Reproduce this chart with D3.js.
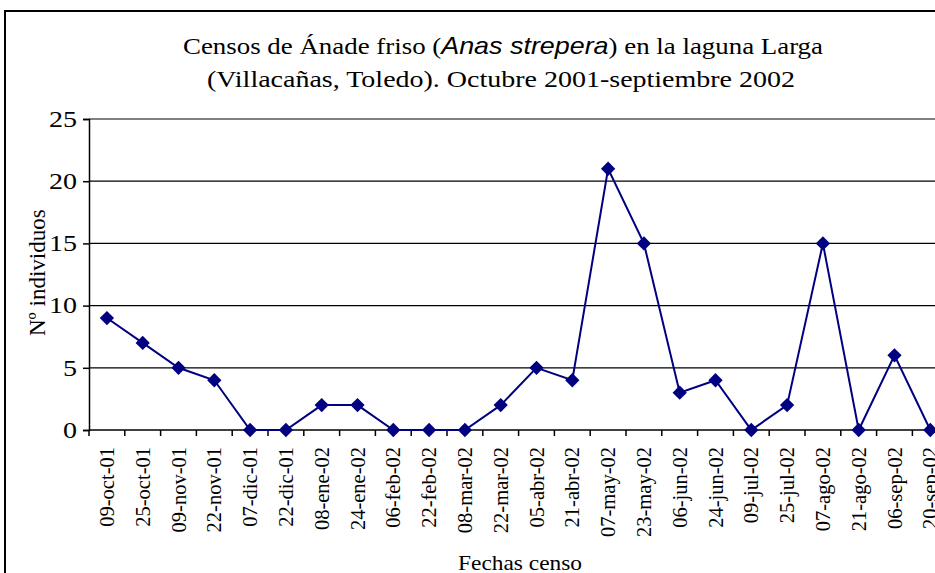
<!DOCTYPE html>
<html>
<head>
<meta charset="utf-8">
<script src="https://cdn.jsdelivr.net/npm/d3@7"></script>
<style>
  body { margin: 0; background: #fff; }
  svg { display: block; }
  text { font-family: "Liberation Serif", "Times New Roman", serif; fill: #000; }
</style>
</head>
<body>
<svg id="chart" width="935" height="573"></svg>
<script>
// fechas de censo
var fechas = ["09-oct-01", "25-oct-01", "09-nov-01", "22-nov-01", "07-dic-01", "22-dic-01",
  "08-ene-02", "24-ene-02", "06-feb-02", "22-feb-02", "08-mar-02", "22-mar-02",
  "05-abr-02", "21-abr-02", "07-may-02", "23-may-02", "06-jun-02", "24-jun-02",
  "09-jul-02", "25-jul-02", "07-ago-02", "21-ago-02", "06-sep-02", "20-sep-02"];
var individuos = [9, 7, 5, 4, 0, 0, 2, 2, 0, 0, 0, 2, 5, 4, 21, 15, 3, 4, 0, 2, 15, 0, 6, 0];
var yTicks = [0, 5, 10, 15, 20, 25];

var svg = d3.select("#chart");

// plot area (continues past the right edge, as in the original)
var pLeft = 89, pTop = 119, pBottom = 430, step = 35.8;
var pRight = pLeft + step * fechas.length;

var x = d3.scaleBand().domain(fechas).range([pLeft, pRight]);
var y = d3.scaleLinear().domain([0, 25]).range([pBottom, pTop]);

// chart frame
svg.append("rect")
  .attr("x", 5).attr("y", 11)
  .attr("width", 1000).attr("height", 700)
  .attr("fill", "none").attr("stroke", "#000").attr("stroke-width", 2);

// title
var title = svg.append("text")
  .attr("x", 503).attr("y", 54)
  .attr("text-anchor", "middle")
  .attr("textLength", 640).attr("lengthAdjust", "spacingAndGlyphs")
  .style("font-size", "24px");
title.append("tspan").text("Censos de Ánade friso (");
title.append("tspan").text("Anas strepera")
  .style("font-family", "'Liberation Sans', Arial, sans-serif")
  .style("font-style", "italic");
title.append("tspan").text(") en la laguna Larga");
svg.append("text")
  .attr("x", 501).attr("y", 87)
  .attr("text-anchor", "middle")
  .attr("textLength", 588).attr("lengthAdjust", "spacingAndGlyphs")
  .style("font-size", "24px")
  .text("(Villacañas, Toledo). Octubre 2001-septiembre 2002");

// gridlines
svg.append("g")
  .selectAll("line")
  .data(yTicks.filter(function (d) { return d > 0; }))
  .enter().append("line")
  .attr("x1", pLeft).attr("x2", pRight)
  .attr("y1", function (d) { return y(d); })
  .attr("y2", function (d) { return y(d); })
  .attr("stroke", function (d) { return d == 25 ? "#808080" : "#000"; })
  .attr("stroke-width", function (d) { return d == 25 ? 2 : 1.3; });

// y axis
var yAxis = svg.append("g")
  .attr("transform", "translate(" + pLeft + ",0)")
  .call(d3.axisLeft(y).tickValues(yTicks).tickSize(6).tickPadding(6));
yAxis.select(".domain").attr("stroke", "#000").attr("stroke-width", 1.5);
yAxis.selectAll(".tick line").attr("stroke", "#000").attr("stroke-width", 1.5);
yAxis.selectAll("text")
  .style("font-size", "23px")
  .style("font-family", "'Liberation Serif', serif")
  .attr("fill", "#000")
  .attr("textLength", function (d) { return d < 10 ? 14 : 28; })
  .attr("lengthAdjust", "spacingAndGlyphs");

// x axis with ticks between categories
var xAxis = svg.append("g")
  .attr("transform", "translate(0," + pBottom + ")");
xAxis.append("line")
  .attr("x1", pLeft).attr("x2", pRight)
  .attr("stroke", "#000").attr("stroke-width", 1.5);
xAxis.selectAll(".tk")
  .data(fechas)
  .enter().append("line")
  .attr("class", "tk")
  .attr("x1", function (d) { return x(d); })
  .attr("x2", function (d) { return x(d); })
  .attr("y1", 0).attr("y2", 6)
  .attr("stroke", "#000").attr("stroke-width", 1.5);
xAxis.selectAll(".lbl")
  .data(fechas)
  .enter().append("text")
  .attr("class", "lbl")
  .attr("transform", function (d) {
    return "translate(" + (x(d) + x.bandwidth() / 2 + 7) + ",17) rotate(-90)";
  })
  .attr("text-anchor", "end")
  .style("font-size", "20.5px")
  .text(function (d) { return d; });

// axis titles (y title is cut at the top, as in the original)
svg.append("defs").append("clipPath").attr("id", "ylclip")
  .append("rect").attr("x", 0).attr("y", 209).attr("width", 80).attr("height", 200);
svg.append("g")
  .attr("clip-path", "url(#ylclip)")
  .append("text")
  .attr("transform", "translate(45,336) rotate(-90)")
  .attr("text-anchor", "start")
  .style("font-size", "23px")
  .text("Nº individuos");
svg.append("text")
  .attr("x", 520).attr("y", 570)
  .attr("text-anchor", "middle")
  .attr("textLength", 124).attr("lengthAdjust", "spacingAndGlyphs")
  .style("font-size", "22px")
  .text("Fechas censo");

// series
var line = d3.line()
  .x(function (d, i) { return x(fechas[i]) + x.bandwidth() / 2; })
  .y(function (d) { return y(d); });
svg.append("path")
  .datum(individuos)
  .attr("d", line)
  .attr("fill", "none")
  .attr("stroke", "#000080")
  .attr("stroke-width", 2);
svg.append("g")
  .selectAll("path")
  .data(individuos)
  .enter().append("path")
  .attr("d", d3.symbol().type(d3.symbolDiamond2).size(130))
  .attr("transform", function (d, i) {
    return "translate(" + (x(fechas[i]) + x.bandwidth() / 2) + "," + y(d) + ")";
  })
  .attr("fill", "#000080");
</script>
</body>
</html>
